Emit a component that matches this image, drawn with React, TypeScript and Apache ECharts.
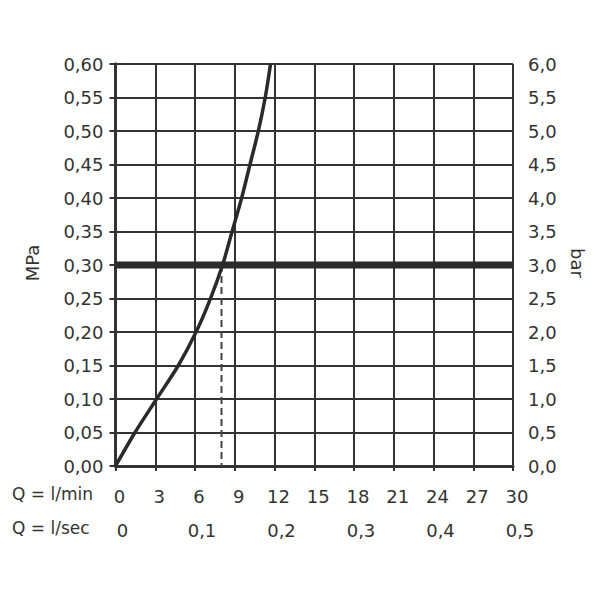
import React, { useEffect, useRef } from "react";
import * as echarts from "echarts";

// Flow (l/min) vs pressure (MPa)
const flowLpm = [0, 1.47, 3.1, 4.74, 6.08, 7.13, 8.08, 8.8, 9.52, 10.15, 10.78, 11.3, 11.7];
const pressureMPa = [0, 0.05, 0.1, 0.15, 0.2, 0.248, 0.3, 0.35, 0.4, 0.45, 0.5, 0.55, 0.6];
const refPressure = 0.3;
const refFlow = 8.0;
const xRowLabels = ["Q = l/min", "Q = l/sec"];
const leftName = "MPa";
const rightName = "bar";

const FONT = "DejaVu Sans";
const INK = "#333333";

export default function App() {
  const ref = useRef<HTMLDivElement>(null);
  useEffect(() => {
    if (!ref.current) return;
    const chart = echarts.init(ref.current, undefined, { renderer: "svg" });
    const curve = flowLpm.map((f, i) => [f, pressureMPa[i]]);
    chart.setOption({
      animation: false,
      backgroundColor: "#ffffff",
      textStyle: { fontFamily: FONT },
      grid: { left: 115.5, right: 87, top: 64, bottom: 134, containLabel: false },
      xAxis: [
        {
          type: "value",
          min: 0,
          max: 30,
          interval: 3,
          position: "bottom",
          axisLine: { show: true, lineStyle: { color: INK, width: 3 } },
          axisTick: { show: true, length: 5, lineStyle: { color: INK, width: 2 } },
          splitLine: { show: true, lineStyle: { color: INK, width: 2 } },
          axisLabel: {
            margin: 21,
            fontSize: 18,
            color: INK,
            fontFamily: FONT,
            padding: [0, 0, 0, 8],
            formatter: (v: number) => String(v),
          },
        },
        {
          type: "value",
          min: 0,
          max: 0.5,
          interval: 0.1,
          position: "bottom",
          offset: 34,
          axisLine: { show: false },
          axisTick: { show: false },
          splitLine: { show: false },
          axisLabel: {
            margin: 21,
            fontSize: 18,
            color: INK,
            fontFamily: FONT,
            padding: [0, 0, 0, 14],
            formatter: (v: number) => (v === 0 ? "0" : v.toFixed(1).replace(".", ",")),
          },
        },
      ],
      yAxis: [
        {
          type: "value",
          min: 0,
          max: 0.6,
          interval: 0.05,
          position: "left",
          axisLine: { show: true, lineStyle: { color: INK, width: 3 } },
          axisTick: { show: true, length: 6, lineStyle: { color: INK, width: 2 } },
          splitLine: { show: true, lineStyle: { color: INK, width: 2 } },
          axisLabel: {
            margin: 12,
            fontSize: 18,
            color: INK,
            fontFamily: FONT,
            formatter: (v: number) => v.toFixed(2).replace(".", ","),
          },
        },
        {
          type: "value",
          min: 0,
          max: 6,
          interval: 0.5,
          position: "right",
          axisLine: { show: true, lineStyle: { color: INK, width: 3 } },
          axisTick: { show: true, length: 6, lineStyle: { color: INK, width: 2 } },
          splitLine: { show: false },
          axisLabel: {
            margin: 15,
            fontSize: 18,
            color: INK,
            fontFamily: FONT,
            formatter: (v: number) => v.toFixed(1).replace(".", ","),
          },
        },
      ],
      series: [
        {
          type: "line",
          xAxisIndex: 0,
          yAxisIndex: 0,
          data: [
            [0, refPressure],
            [30, refPressure],
          ],
          symbol: "none",
          lineStyle: { color: "#2b2b2b", width: 7 },
          z: 3,
        },
        {
          type: "line",
          xAxisIndex: 0,
          yAxisIndex: 0,
          data: [
            [refFlow, refPressure],
            [refFlow, 0],
          ],
          symbol: "none",
          lineStyle: { color: "#444444", width: 2, type: [7, 4] },
          z: 4,
        },
        {
          type: "line",
          xAxisIndex: 0,
          yAxisIndex: 0,
          data: curve,
          smooth: 0.3,
          symbol: "none",
          lineStyle: { color: "#2a2a2a", width: 3.5 },
          z: 5,
        },
      ],
      graphic: [
        {
          type: "text",
          left: 12,
          top: 485,
          style: { text: xRowLabels[0], fontSize: 17, fill: INK, fontFamily: FONT },
        },
        {
          type: "text",
          left: 12,
          top: 519,
          style: { text: xRowLabels[1], fontSize: 17, fill: INK, fontFamily: FONT },
        },
        {
          type: "text",
          x: 32,
          y: 263,
          rotation: Math.PI / 2,
          style: {
            text: leftName,
            fontSize: 18,
            fill: INK,
            fontFamily: FONT,
            align: "center",
            verticalAlign: "middle",
          },
        },
        {
          type: "text",
          x: 577,
          y: 263,
          rotation: -Math.PI / 2,
          style: {
            text: rightName,
            fontSize: 18,
            fill: INK,
            fontFamily: FONT,
            align: "center",
            verticalAlign: "middle",
          },
        },
      ],
    });
    return () => chart.dispose();
  }, []);
  return (
    <div
      ref={ref}
      style={{ position: "fixed", left: 0, top: 0, width: 600, height: 600, background: "#fff" }}
    />
  );
}
